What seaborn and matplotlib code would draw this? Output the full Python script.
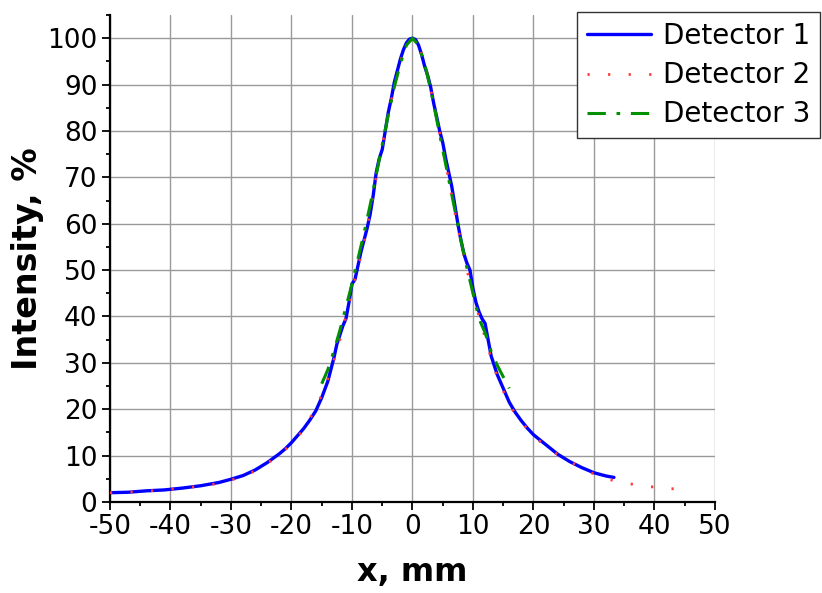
import matplotlib
matplotlib.use("Agg")
import matplotlib.pyplot as plt
import seaborn as sns
import pandas as pd
from matplotlib.ticker import MultipleLocator

# Detector 1: measured profile (mm, %)
x1 = [-50, -47, -44, -41, -38, -35, -32, -30, -28, -26, -24, -22, -21, -20, -19, -18,
      -17, -16, -15, -14, -13.5, -13, -12.5, -12, -11.5, -11, -10.5, -10, -9.5, -9,
      -8.5, -8, -7.5, -7, -6.5, -6, -5.5, -5, -4.5, -4, -3.5, -3, -2.5, -2, -1.5, -1,
      -0.5, 0, 0.5, 1, 1.5, 2, 2.5, 3, 3.5, 4, 4.5, 5, 5.5, 6, 6.5, 7, 7.5, 8, 8.5,
      9, 9.5, 10, 10.5, 11, 11.5, 12, 12.5, 13, 13.5, 14, 15, 16, 17, 18, 19, 20, 22,
      24, 26, 28, 30, 32, 33.3]
y1 = [2.0, 2.1, 2.4, 2.6, 3.0, 3.5, 4.2, 4.9, 5.7, 6.9, 8.5, 10.4, 11.5, 12.8, 14.3, 15.8,
      17.6, 19.6, 22.5, 26.0, 28.5, 31.0, 34.0, 36.0, 38.0, 39.5, 43.0, 47.0, 48.0, 51.0,
      54.0, 56.5, 59.0, 62.0, 66.0, 71.0, 74.0, 76.0, 80.0, 84.0, 87.0, 90.5, 93.0, 95.5,
      97.5, 99.0, 99.8, 100.0, 99.7, 98.5, 96.5, 94.0, 92.0, 89.5, 86.0, 83.0, 80.0, 77.5,
      74.0, 71.0, 68.0, 64.0, 60.0, 56.5, 53.5, 51.5, 50.0, 46.0, 43.0, 41.0, 39.5, 38.5,
      35.0, 31.5, 29.5, 27.5, 24.5, 21.5, 19.3, 17.5, 15.9, 14.5, 12.4, 10.3, 8.7, 7.4,
      6.3, 5.6, 5.3]

# Detector 2
x2 = [-50, -46, -42, -38, -34, -32, -30, -28, -26, -24, -22, -20, -19, -18, -17, -16,
      -15, -14, -13, -12, -11, -10, -9, -8, -7, -6, -5, -4, -3, -2, -1, 0, 1, 2, 3, 4,
      5, 6, 7, 8, 9, 10, 11, 12, 13, 14, 15, 16, 17, 18, 20, 22, 24, 26, 28, 30, 32,
      34, 36, 38, 40, 42, 44, 46]
y2 = [2.0, 2.2, 2.5, 3.0, 3.6, 4.0, 4.7, 5.6, 6.7, 8.3, 10.2, 12.5, 14.0, 15.6, 17.8, 20.5,
      23.0, 26.5, 30.5, 35.0, 40.0, 45.5, 50.5, 56.0, 62.5, 70.0, 77.0, 83.5, 89.5, 95.0,
      98.5, 100.0, 98.5, 95.0, 89.0, 83.0, 76.0, 69.5, 62.5, 56.0, 50.0, 45.0, 40.0, 35.5,
      31.0, 27.0, 24.0, 21.0, 19.0, 17.2, 14.3, 12.0, 10.2, 8.7, 7.4, 6.0, 5.0, 4.4, 3.9,
      3.5, 3.2, 2.9, 2.8, 2.8]

# Detector 3
x3 = [-15, -14, -13, -12, -11, -10, -9, -8, -7, -6, -5, -4, -3, -2, -1, 0,
      1, 2, 3, 4, 5, 6, 7, 8, 9, 10, 11, 12, 13, 14, 15, 16]
y3 = [25.5, 28.5, 32.5, 37.0, 42.0, 47.0, 52.5, 58.0, 64.0, 70.5, 77.0, 83.5, 89.5, 94.5,
      98.5, 100.0, 98.5, 94.5, 89.0, 82.5, 76.0, 69.5, 63.0, 56.5, 50.5, 45.0, 39.5, 36.5,
      32.5, 29.5, 27.0, 24.5]

labels = ["Detector 1", "Detector 2", "Detector 3"]
x_ticks = list(range(-50, 51, 10))
y_ticks = list(range(0, 101, 10))

sns.set_style("white")
plt.rcParams["font.family"] = ["DejaVu Sans"]
plt.rcParams["axes.unicode_minus"] = False
plt.rcParams["text.color"] = "black"
plt.rcParams["axes.labelcolor"] = "black"
plt.rcParams["xtick.color"] = "black"
plt.rcParams["ytick.color"] = "black"

df1 = pd.DataFrame({"x": x1, "y": y1})
df2 = pd.DataFrame({"x": x2, "y": y2})
df3 = pd.DataFrame({"x": x3, "y": y3})

fig = plt.figure(figsize=(8.22, 5.93), dpi=100)
ax = fig.add_axes([0.1338, 0.1535, 0.7360, 0.8212])

sns.lineplot(data=df2, x="x", y="y", ax=ax, color="#ff3b3b", linewidth=2.0,
             linestyle=(0, (0.8, 6.6)), label=labels[1], sort=False, zorder=3)
sns.lineplot(data=df1, x="x", y="y", ax=ax, color="#0000ff", linewidth=2.4,
             label=labels[0], sort=False, zorder=2)
sns.lineplot(data=df3, x="x", y="y", ax=ax, color="#009000", linewidth=2.2,
             linestyle=(0, (6.0, 3.5, 1.2, 3.5)), label=labels[2], sort=False, zorder=4)

ax.set_xlim(-50, 50)
ax.set_ylim(0, 105)
ax.set_xticks(x_ticks)
ax.set_yticks(y_ticks)
ax.xaxis.set_minor_locator(MultipleLocator(5))
ax.yaxis.set_minor_locator(MultipleLocator(5))
ax.tick_params(axis="both", which="major", direction="out", length=6, width=1.3,
               labelsize=19, color="black", labelcolor="black", pad=3,
               bottom=True, left=True)
ax.tick_params(axis="both", which="minor", direction="out", length=3, width=1.3,
               color="black", bottom=True, left=True)
ax.grid(True, which="major", color="#9a9a9a", linewidth=1.0)
ax.set_axisbelow(True)

for side in ("top", "right"):
    ax.spines[side].set_visible(False)
for side in ("left", "bottom"):
    ax.spines[side].set_color("black")
    ax.spines[side].set_linewidth(1.6)

ax.set_xlabel("x, mm", fontsize=23, fontweight="bold", labelpad=12, color="black")
ax.set_ylabel("Intensity, %", fontsize=24, fontweight="bold", labelpad=2, color="black")

handles, labs = ax.get_legend_handles_labels()
order = [labs.index(l) for l in labels]
leg = ax.legend([handles[i] for i in order], [labs[i] for i in order],
                loc="upper right", bbox_to_anchor=(0.998, 0.979),
                bbox_transform=fig.transFigure, fontsize=20, frameon=True,
                fancybox=False, edgecolor="#333333", framealpha=1,
                borderaxespad=0, handlelength=2.3, labelspacing=0.4,
                borderpad=0.35, handletextpad=0.45)
leg.get_frame().set_linewidth(1.0)
for t in leg.get_texts():
    t.set_color("black")

fig.savefig("out.png", dpi=100)
